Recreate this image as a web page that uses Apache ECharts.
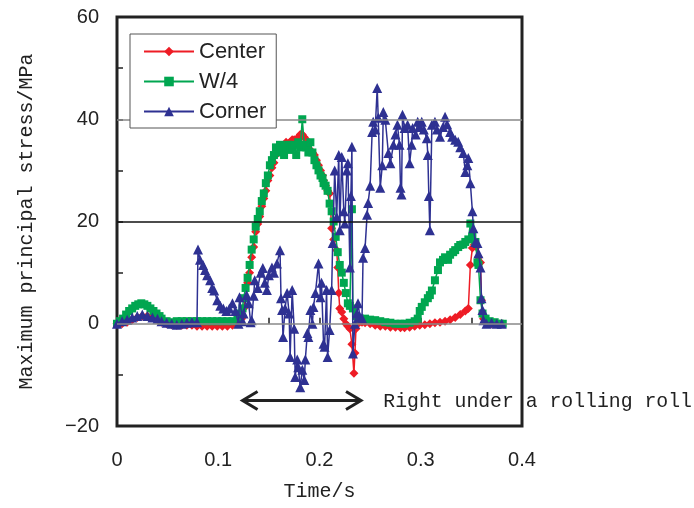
<!DOCTYPE html>
<html>
<head>
<meta charset="utf-8">
<script src="https://cdn.jsdelivr.net/npm/echarts@6/dist/echarts.min.js"></script>
<style>html,body{margin:0;padding:0;background:#fff;}#c{width:694px;height:508px;}</style>
</head>
<body>
<div id="c"></div>
<script>
// ---- Data (time in s, stress in MPa) ----
const centerTime = [0.000,0.005,0.010,0.015,0.020,0.025,0.030,0.035,0.040,0.044,0.049,0.054,0.059,0.064,0.069,0.074,0.079,0.084,0.089,0.094,0.099,0.104,0.109,0.114,0.119,0.123,0.125,0.127,0.129,0.131,0.133,0.135,0.137,0.139,0.141,0.143,0.145,0.147,0.149,0.151,0.153,0.155,0.157,0.159,0.161,0.163,0.165,0.167,0.169,0.171,0.173,0.175,0.177,0.179,0.181,0.183,0.185,0.187,0.189,0.191,0.193,0.195,0.197,0.199,0.201,0.203,0.204,0.206,0.208,0.210,0.212,0.214,0.217,0.218,0.219,0.220,0.222,0.224,0.226,0.228,0.230,0.232,0.234,0.235,0.236,0.238,0.240,0.242,0.245,0.250,0.255,0.260,0.265,0.270,0.275,0.280,0.284,0.289,0.294,0.299,0.304,0.309,0.314,0.319,0.324,0.329,0.334,0.339,0.344,0.347,0.349,0.351,0.353,0.355,0.357,0.359,0.360,0.362,0.365,0.370,0.375,0.380];
const centerValue = [0,0,0.3,0.8,1.2,1.5,1.5,1.2,0.8,0.3,0,-0.2,-0.3,-0.3,-0.3,-0.3,-0.5,-0.5,-0.5,-0.5,-0.5,-0.5,-0.5,-0.3,0,1,3,5,8,10,13,15,18,19.5,21,23,24.5,26,28,29,30.5,31.5,33,33.5,34,34.5,35,35.5,35,35.5,36,36,36,36.5,37,37,36.5,36,35,34,33.5,33,32,31,30,29,28,27,26,25.5,18.7,16.5,14.4,11,6,3,2.3,1,0,-0.5,-1,-4,-9.7,-5.7,-1,0,0.5,0.3,0.2,0,-0.3,-0.5,-0.5,-0.7,-0.7,-0.8,-0.8,-0.7,-0.5,-0.3,-0.2,0,0.2,0.3,0.5,0.8,1.2,1.8,2.5,3,11.5,14.8,15.5,15,13,12,4.6,1,0.3,0,0,0];

const w4Time = [0.000,0.003,0.006,0.009,0.012,0.015,0.018,0.021,0.024,0.027,0.030,0.033,0.036,0.039,0.042,0.044,0.049,0.054,0.059,0.064,0.069,0.074,0.079,0.084,0.089,0.094,0.099,0.104,0.109,0.114,0.119,0.122,0.124,0.125,0.127,0.129,0.131,0.133,0.135,0.137,0.139,0.141,0.143,0.145,0.147,0.149,0.151,0.153,0.155,0.157,0.159,0.161,0.163,0.165,0.167,0.169,0.171,0.173,0.175,0.177,0.179,0.181,0.183,0.185,0.187,0.189,0.191,0.193,0.195,0.197,0.199,0.201,0.203,0.204,0.206,0.208,0.210,0.212,0.214,0.216,0.218,0.220,0.222,0.224,0.226,0.228,0.230,0.232,0.233,0.236,0.240,0.245,0.250,0.255,0.260,0.265,0.270,0.275,0.280,0.284,0.289,0.294,0.297,0.299,0.301,0.304,0.307,0.309,0.311,0.314,0.317,0.319,0.322,0.324,0.327,0.329,0.332,0.334,0.337,0.339,0.342,0.344,0.347,0.349,0.351,0.354,0.356,0.357,0.359,0.361,0.364,0.368,0.373,0.378,0.381];
const w4Value = [0,0.5,1.0,1.8,2.5,3.0,3.5,3.8,4.0,3.8,3.5,3.0,2.5,2.0,1.5,1.0,0.5,0.3,0.5,0.5,0.5,0.5,0.5,0.5,0.5,0.5,0.5,0.5,0.5,0.5,1.0,2,3,5,7,9,11.5,14.5,16.5,19,20.5,22,24,25.5,27.5,29,31,32,33,34.5,33.5,35,34,33,34.5,35,34,34.5,35,33,35.5,34.5,40,35,34.5,33.5,35.5,33.5,32,31,30,29,28.5,27.5,27,26,23.5,22,20,17,14,11.5,10,8,6,4,3.5,22.4,3,1.5,1,1.0,0.8,0.7,0.5,0.3,0.2,0,0,0,0.2,0.5,1,2.5,3.3,4.2,5,5.6,6.5,8.5,10.5,12,12.5,13,12.5,13.5,14,14.4,15,15.4,15.5,16,16.5,19.6,17,16,12,11.5,4.6,2,1,0.5,0.3,0,0];

const cornerTime = [0.000,0.005,0.010,0.015,0.020,0.025,0.030,0.035,0.040,0.044,0.049,0.054,0.059,0.064,0.069,0.074,0.079,0.080,0.082,0.085,0.087,0.089,0.092,0.094,0.096,0.099,0.102,0.105,0.108,0.111,0.114,0.117,0.120,0.121,0.124,0.125,0.128,0.130,0.132,0.133,0.135,0.136,0.139,0.142,0.144,0.146,0.148,0.150,0.153,0.155,0.158,0.161,0.162,0.163,0.164,0.166,0.168,0.170,0.171,0.173,0.175,0.176,0.178,0.179,0.181,0.183,0.185,0.186,0.188,0.189,0.191,0.193,0.194,0.196,0.199,0.201,0.202,0.204,0.205,0.207,0.208,0.210,0.212,0.213,0.215,0.217,0.219,0.220,0.222,0.224,0.225,0.227,0.228,0.230,0.231,0.232,0.233,0.235,0.237,0.238,0.240,0.242,0.243,0.245,0.247,0.248,0.250,0.252,0.253,0.255,0.257,0.258,0.260,0.262,0.263,0.265,0.268,0.270,0.273,0.275,0.277,0.279,0.280,0.281,0.282,0.284,0.287,0.289,0.291,0.292,0.295,0.297,0.299,0.301,0.303,0.306,0.307,0.308,0.309,0.311,0.314,0.316,0.319,0.322,0.324,0.326,0.329,0.331,0.334,0.337,0.339,0.342,0.344,0.346,0.347,0.349,0.351,0.352,0.354,0.356,0.357,0.359,0.360,0.361,0.362,0.365,0.370,0.375,0.380];
const cornerValue = [0,0.5,0.8,1.2,1.5,1.8,1.5,1.2,1.0,0.5,0.2,0,-0.2,0,0.2,0.3,0.3,14.5,12.5,11.5,10.5,9.5,8.5,7,6.5,4.6,3.5,3.0,2.5,3.0,4.0,2.5,0,5.2,0.5,2,5.6,4,0.3,0.7,5.5,8.5,7,10,10.9,8,6.6,9.5,11,10,11.8,14.4,5,2.7,-2.6,3,6,2,-6.5,6.6,-1,-10.4,-7,-8.5,-12.4,-9,-11,-7,-1.8,-2.6,2.7,0,3.3,6,11.8,5.2,8,-3.9,-4.5,6.6,-6.5,-1.2,6.6,15.8,30,20.9,33,18.3,32.6,22,19.6,30,31.4,11,25,34.6,-5.8,0,2,4,1.3,1.1,12.9,14.8,21.3,23.6,27,37.5,39.5,38,46.1,40.3,26.6,31,41.4,39.9,33.4,31.4,35,37,38.9,35,26.6,25.3,40.9,38.3,38.9,31.4,35,38.3,37,39.5,38.5,39.5,38,36.3,33,25,18.3,38.9,39.5,38,36.6,38.5,40.5,39,37.5,36.6,36,35.6,34.5,33.4,29.7,31,32.4,27.5,22,18.7,16,15.8,13.8,11,5,2.7,0.7,0,0.2,0,0];

const seriesNames = ['Center', 'W/4', 'Corner'];
const gridValues = [0, 20, 40];
const xTickLabels = ['0', '0.1', '0.2', '0.3', '0.4'];
const yTickLabels = ['\u221220', '0', '20', '40', '60'];

const zip = (t, v) => t.map((x, i) => [x, v[i]]);

const chart = echarts.init(document.getElementById('c'), null, {renderer: 'canvas'});
const numFont = 'Liberation Sans, Arial, sans-serif';
const monoFont = 'Liberation Mono, DejaVu Sans Mono, monospace';

const option = {
  animation: false,
  backgroundColor: '#fff',
  grid: {left: 117, right: 172, top: 17, bottom: 82, show: true, borderColor: '#222', borderWidth: 3, backgroundColor: 'transparent'},
  legend: {
    data: seriesNames, orient: 'vertical', left: 130, top: 34,
    itemWidth: 50, itemHeight: 12, itemGap: 7,
    padding: [6, 10, 5, 13],
    borderColor: '#555', borderWidth: 1, backgroundColor: '#fff',
    textStyle: {fontSize: 22, fontFamily: numFont, color: '#222', lineHeight: 23},
    z: 10
  },
  xAxis: {
    type: 'value', min: 0, max: 0.4, interval: 0.05,
    axisLine: {show: false},
    axisTick: {show: true, inside: true, length: 6, lineStyle: {color: '#222', width: 1.5}},
    splitLine: {show: false},
    axisLabel: {
      margin: 24, fontSize: 20, color: '#222', fontFamily: numFont,
      formatter: v => { const k = Math.round(v * 20); return k % 2 === 0 ? xTickLabels[k / 2] : ''; }
    },
    name: 'Time/s', nameLocation: 'middle', nameGap: 56,
    nameTextStyle: {fontSize: 20, fontFamily: monoFont, color: '#222'}
  },
  yAxis: {
    type: 'value', min: -20, max: 60, interval: 10,
    axisLine: {show: false},
    axisTick: {show: true, inside: true, length: 6, lineStyle: {color: '#222', width: 1.5}},
    splitLine: {show: false},
    axisLabel: {
      margin: 18, fontSize: 20, color: '#222', fontFamily: numFont,
      formatter: v => { const k = Math.round(v); return k % 20 === 0 ? yTickLabels[(k + 20) / 20] : ''; }
    },
    name: 'Maximum principal stress/MPa', nameLocation: 'middle', nameGap: 80,
    nameTextStyle: {fontSize: 20, fontFamily: monoFont, color: '#222'}
  },
  series: [
    {
      type: 'line', data: [], z: 1, silent: true,
      markLine: {
        silent: true, symbol: 'none', label: {show: false}, animation: false,
        data: gridValues.map(v => ({yAxis: v, lineStyle: {color: v === 20 ? '#111' : '#888', width: 1.5, type: 'solid'}}))
      }
    },
    {
      name: 'Center', type: 'line', data: zip(centerTime, centerValue),
      symbol: 'diamond', symbolSize: 9, showAllSymbol: true,
      lineStyle: {color: '#ee1c25', width: 1.5}, itemStyle: {color: '#ee1c25'}, z: 2
    },
    {
      name: 'W/4', type: 'line', data: zip(w4Time, w4Value),
      symbol: 'rect', symbolSize: 8, showAllSymbol: true,
      lineStyle: {color: '#00a650', width: 1.5}, itemStyle: {color: '#00a650'}, z: 3
    },
    {
      name: 'Corner', type: 'line', data: zip(cornerTime, cornerValue),
      symbol: 'triangle', symbolSize: 10, showAllSymbol: true,
      lineStyle: {color: '#2e3192', width: 1.5}, itemStyle: {color: '#2e3192'}, z: 4
    }
  ]
};
chart.setOption(option);

// Annotation: arrow and text placed through the chart's own scales
const arrowFrom = chart.convertToPixel({gridIndex: 0}, [0.124, -15]);
const arrowTo = chart.convertToPixel({gridIndex: 0}, [0.241, -15]);
const textAt = chart.convertToPixel({gridIndex: 0}, [0.263, -15]);
const hl = 15, hh = 9;
chart.setOption({
  graphic: [
    {type: 'polyline', shape: {points: [arrowFrom, arrowTo]}, style: {stroke: '#222', lineWidth: 3, fill: null}, z: 20},
    {type: 'polyline', shape: {points: [[arrowFrom[0] + hl, arrowFrom[1] - hh], arrowFrom, [arrowFrom[0] + hl, arrowFrom[1] + hh]]}, style: {stroke: '#222', lineWidth: 3, fill: null}, z: 20},
    {type: 'polyline', shape: {points: [[arrowTo[0] - hl, arrowTo[1] - hh], arrowTo, [arrowTo[0] - hl, arrowTo[1] + hh]]}, style: {stroke: '#222', lineWidth: 3, fill: null}, z: 20},
    {type: 'text', x: textAt[0], y: textAt[1] + 1, style: {text: 'Right under a rolling roll', font: '19.8px ' + monoFont, fill: '#222', textVerticalAlign: 'middle', textAlign: 'left'}, z: 20}
  ]
});
</script>
</body>
</html>
